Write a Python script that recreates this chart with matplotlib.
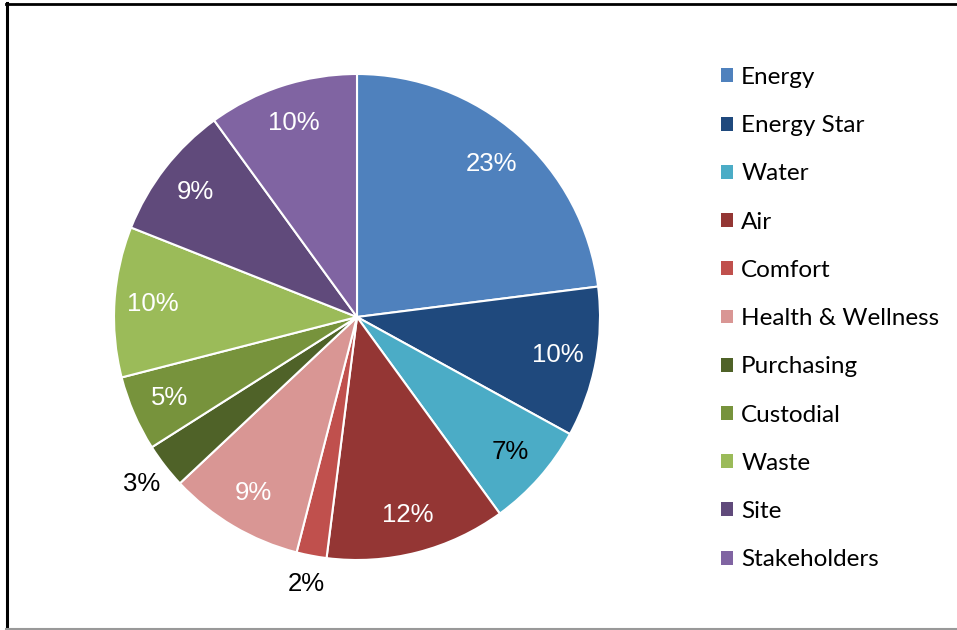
import matplotlib.pyplot as plt
from matplotlib.patches import Patch
from matplotlib.lines import Line2D

categories = ["Energy", "Energy Star", "Water", "Air", "Comfort", "Health & Wellness",
              "Purchasing", "Custodial", "Waste", "Site", "Stakeholders"]
shares = [23, 10, 7, 12, 2, 9, 3, 5, 10, 9, 10]
colors = ["#4F81BD", "#1F497D", "#4BACC6", "#943634", "#C0504D", "#D99694",
          "#4F6228", "#77933C", "#9BBB59", "#604A7B", "#8064A2"]

# label colour / placement per slice
label_colors = ["white", "white", "black", "white", "black", "white",
                "black", "white", "white", "white", "white"]
outside = [False, False, False, False, True, False, True, False, False, False, False]

fig = plt.figure(figsize=(9.57, 6.3), dpi=100)
ax = fig.add_axes([114 / 957, 70 / 630, 486 / 957, 486 / 630])

wedges, texts, autotexts = ax.pie(
    shares, colors=colors, startangle=90, counterclock=False,
    autopct="%d%%", pctdistance=0.84, radius=1,
    wedgeprops=dict(edgecolor="white", linewidth=1.5),
    textprops=dict(family="Liberation Sans", fontsize=18.5))

for t, c, out in zip(autotexts, label_colors, outside):
    t.set_color(c)
    if out:
        x, y = t.get_position()
        t.set_position((x / 0.84 * 1.12, y / 0.84 * 1.12))

ax.set_xlim(-1, 1)
ax.set_ylim(-1, 1)
ax.set_aspect("equal")
ax.axis("off")

handles = [Patch(facecolor=c, edgecolor="none") for c in colors]
fig.legend(handles, categories, loc="upper left", bbox_to_anchor=(721 / 957, 1 - 67 / 630),
           frameon=False, borderpad=0, borderaxespad=0,
           handlelength=0.5, handleheight=0.5, handletextpad=0.33,
           labelspacing=1.12, prop=dict(family="Lato", size=17.5))

# outer frame
fig.add_artist(Line2D([7 / 957, 7 / 957], [1 - 3 / 630, 1 - 628 / 630], color="black", lw=2.2))
fig.add_artist(Line2D([6 / 957, 1], [1 - 3.5 / 630, 1 - 3.5 / 630], color="black", lw=2))
fig.add_artist(Line2D([6 / 957, 1], [1 - 628.5 / 630, 1 - 628.5 / 630], color="#999999", lw=1.5))

fig.savefig("out.png", dpi=100)
